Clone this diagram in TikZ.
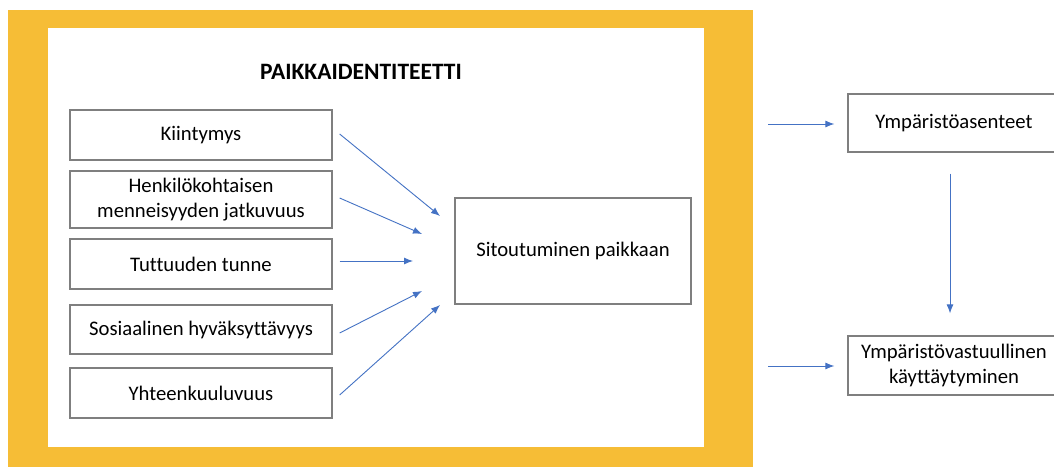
\documentclass[tikz,border=0pt]{standalone}
\usepackage{fontspec}
\setmainfont[Ligatures=CommonOff]{Carlito}
\usetikzlibrary{arrows.meta}
\definecolor{gold}{HTML}{F6BD36}
\definecolor{arrowblue}{HTML}{4472C4}
\definecolor{boxgray}{HTML}{7F7F7F}
\tikzset{
  box/.style={draw=boxgray, line width=1.3pt, fill=white, rectangle, inner sep=2pt,
    font=\fontsize{20.7}{25}\selectfont, align=center},
  arr/.style={draw=arrowblue, line width=0.9pt, -{Latex[length=9pt,width=7pt]}},
}
\begin{document}
\begin{tikzpicture}[x=1pt,y=-1pt]
\useasboundingbox (0,0) rectangle (1054,466);
\clip (0,0) rectangle (1054,466);
% frame
\fill[gold] (8,10) rectangle (753,470);
\fill[white] (48,28) rectangle (704,447);
\node[font=\fontsize{23.5}{28}\selectfont\bfseries] (title) at (361,72) {PAIKKAIDENTITEETTI};
% left boxes
\node[box, minimum width=262pt, minimum height=50pt] (k) at (201,135) {Kiintymys};
\node[box, minimum width=262pt, minimum height=57pt] (h) at (201,199.5) {Henkilökohtaisen\\menneisyyden jatkuvuus};
\node[box, minimum width=262pt, minimum height=50pt] (t) at (201,264) {Tuttuuden tunne};
\node[box, minimum width=262pt, minimum height=49pt] (s) at (201,329.5) {Sosiaalinen hyväksyttävyys};
\node[box, minimum width=262pt, minimum height=50pt] (y) at (201,393) {Yhteenkuuluvuus};
% center box
\node[box, minimum width=236pt, minimum height=106pt] (sit) at (573,251) {Sitoutuminen paikkaan};
% right boxes
\node[box, minimum width=212pt, minimum height=58pt] (ya) at (954,123) {Ympäristöasenteet};
\node[box, minimum width=212pt, minimum height=59pt] (yv) at (954,365.5) {Ympäristövastuullinen\\käyttäytyminen};
% arrow end points
\coordinate (e1) at (440,216);
\coordinate (e2) at (422,234);
\coordinate (e3) at (413,261);
\coordinate (e4) at (422,291);
\coordinate (e5) at (440,305);
\coordinate (r1) at (768,124);
\coordinate (r2) at (768,366);
% arrows
\draw[arr] ([xshift=7pt]k.east |- 0,134) -- (e1);
\draw[arr] ([xshift=7pt]h.east |- 0,198) -- (e2);
\draw[arr] ([xshift=7pt]t.east |- 0,261) -- (e3);
\draw[arr] ([xshift=7pt]s.east |- 0,333) -- (e4);
\draw[arr] ([xshift=7pt]y.east |- 0,395) -- (e5);
\draw[arr] (r1) -- ([xshift=-13pt]ya.west |- r1);
\draw[arr] (r2) -- ([xshift=-13pt]yv.west |- r2);
\draw[arr] ([yshift=-21pt]ya.south -| 950,0) -- ([yshift=22pt]yv.north -| 950,0);
\end{tikzpicture}
\end{document}
